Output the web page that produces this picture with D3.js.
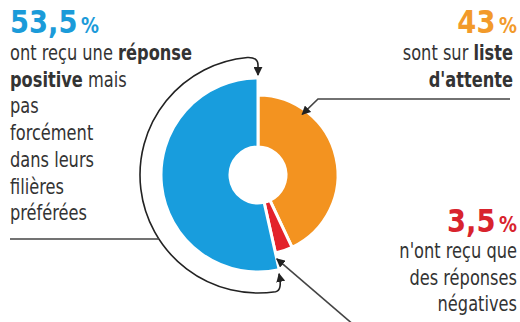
<!DOCTYPE html>
<html>
<head>
<meta charset="utf-8">
<script src="https://cdn.jsdelivr.net/npm/d3@7"></script>
<style>
  body { margin: 0; background: #fff; }
  svg { display: block; }
  text { font-family: "DejaVu Sans Condensed", "Roboto", sans-serif; fill: #333; }
</style>
</head>
<body>
<svg id="chart" width="520" height="322"></svg>
<script>
// pie order: clockwise from 12 o'clock
const categories = ['attente', 'negative', 'positive'];
const values = [43, 3.5, 53.5];
const percentLabels = ['43', '3,5', '53,5'];

const colors = {attente: '#f39320', negative: '#e3222b', positive: '#189ddd'};
const textColors = {attente: '#f29a2a', negative: '#d8232d', positive: '#1b9bd9'};

const svg = d3.select('#chart');
const cx = 258, cy = 175;
const innerR = 28;
const outerR = {attente: 80, negative: 80, positive: 97};
const squeeze = 0.82; // body text is a narrow face

let defs = svg.append('defs');
defs.append('marker')
    .attr('id', 'head')
    .attr('viewBox', '0 0 10 10')
    .attr('refX', 9).attr('refY', 5)
    .attr('markerWidth', 9).attr('markerHeight', 9)
    .attr('markerUnits', 'userSpaceOnUse')
    .attr('orient', 'auto-start-reverse')
    .append('path').attr('d', 'M0,0 L10,5 L0,10 z').attr('fill', '#222');

let pie = d3.pie().sort(null).value(d => d.v);
let slices = pie(categories.map((c, i) => ({c: c, v: values[i]})));

let g = svg.append('g').attr('transform', `translate(${cx},${cy})`);
g.selectAll('path.slice').data(slices).join('path')
    .attr('class', 'slice')
    .attr('d', d => d3.arc().innerRadius(innerR).outerRadius(outerR[d.data.c])(d))
    .attr('fill', d => colors[d.data.c])
    .attr('stroke', '#fff')
    .attr('stroke-width', 3);

// helper: point at angle (clockwise from top) and radius
function pt(a, r) { return [r * Math.sin(a), -r * Math.cos(a)]; }

// bracket around the blue slice
let blue = slices.find(d => d.data.c === 'positive');
let R = 118;
let a1 = blue.endAngle, a0 = blue.startAngle;
let tipTop = pt(a1, 100), t1 = pt(a1, 110), c1 = pt(a1, R), s1 = pt(a1 - 0.09, R);
let e0 = pt(a0 + 0.07, R), c0 = pt(a0 + 0.01, R), tipBot = pt(a0 + 0.01, 101);
g.append('path')
    .attr('d', `M${tipTop}L${t1}Q${c1} ${s1}A${R},${R} 0 1 0 ${e0}Q${c0} ${tipBot}`)
    .attr('fill', 'none').attr('stroke', '#222').attr('stroke-width', 1.6)
    .attr('marker-start', 'url(#head)').attr('marker-end', 'url(#head)');

// leader lines
let leftY = 239;
let leftX = cx - Math.sqrt(R * R - (leftY - cy) * (leftY - cy));
svg.append('line').attr('x1', 10).attr('x2', leftX).attr('y1', leftY).attr('y2', leftY)
    .attr('stroke', '#444').attr('stroke-width', 1.6);

let orange = slices.find(d => d.data.c === 'attente');
let oTip = pt(orange.startAngle + 0.63, 75);
svg.append('path')
    .attr('d', `M510,99L318,99L${cx + oTip[0]},${cy + oTip[1]}`)
    .attr('fill', 'none').attr('stroke', '#444').attr('stroke-width', 1.6)
    .attr('marker-end', 'url(#head)');

let red = slices.find(d => d.data.c === 'negative');
let rTip = pt(red.endAngle, 86);
svg.append('path')
    .attr('d', `M355,326L${cx + rTip[0]},${cy + rTip[1]}`)
    .attr('fill', 'none').attr('stroke', '#444').attr('stroke-width', 1.6)
    .attr('marker-end', 'url(#head)');

// text blocks
function bigLabel(x, y, anchor, cat) {
  let i = categories.indexOf(cat);
  let t = svg.append('text').attr('transform', `translate(${x},${y}) scale(0.95,1)`)
      .attr('text-anchor', anchor)
      .style('font-weight', 'bold').style('fill', textColors[cat]);
  t.append('tspan').style('font-size', '32px').style('fill', textColors[cat]).text(percentLabels[i]);
  t.append('tspan').style('font-size', '21px').style('fill', textColors[cat]).text('\u2009%');
}
function lines(x, y0, anchor, rows) {
  rows.forEach((row, k) => {
    let t = svg.append('text')
        .attr('transform', `translate(${x},${y0 + k * 26.7}) scale(${squeeze},1)`)
        .attr('text-anchor', anchor).style('font-size', '22px');
    row.forEach(part => {
      t.append('tspan').style('font-weight', part[1] ? 'bold' : 'normal').text(part[0]);
    });
  });
}

bigLabel(10, 33, 'start', 'positive');
lines(10, 60, 'start', [
  [['ont reçu une '], ['réponse', 1]],
  [['positive', 1], [' mais']],
  [['pas']],
  [['forcément']],
  [['dans leurs']],
  [['filières']],
  [['préférées']]
]);

bigLabel(517, 33, 'end', 'attente');
lines(513, 60, 'end', [
  [['sont sur '], ['liste', 1]],
  [["d'attente", 1]]
]);

bigLabel(517, 232, 'end', 'negative');
lines(517, 258, 'end', [
  [["n'ont reçu que"]],
  [['des réponses']],
  [['négatives']]
]);
</script>
</body>
</html>
